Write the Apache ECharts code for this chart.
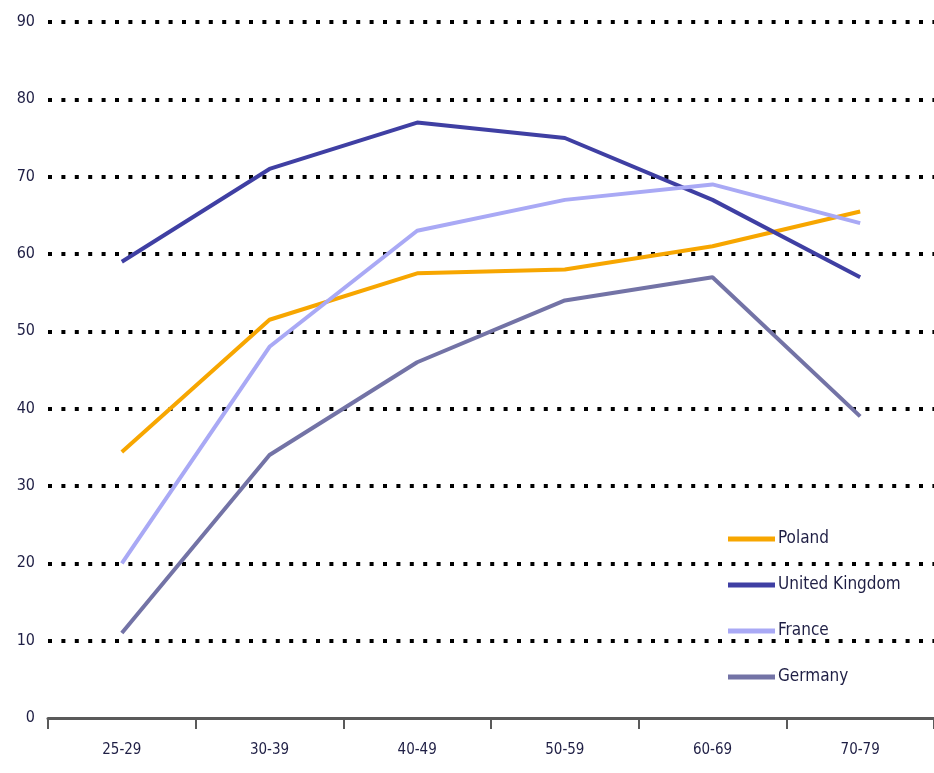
<!DOCTYPE html>
<html>
<head>
<meta charset="utf-8">
<script src="https://cdn.jsdelivr.net/npm/echarts@6/dist/echarts.min.js"></script>
<style>
  html, body { margin: 0; padding: 0; background: #fff; }
  #chart { width: 934px; height: 773px; }
</style>
</head>
<body>
<div id="chart"></div>
<script>
// Age groups along the horizontal axis
const ageGroups = ['25-29', '30-39', '40-49', '50-59', '60-69', '70-79'];

// Percentage values per country
const poland = [34.4, 51.5, 57.5, 58, 61, 65.5];
const unitedKingdom = [59, 71, 77, 75, 67, 57];
const france = [20, 48, 63, 67, 69, 64];
const germany = [11, 34, 46, 54, 57, 39];

const FONT = "'Liberation Sans Narrow', 'DejaVu Sans Condensed', 'Liberation Sans', sans-serif";
const TEXT = '#1f1f45';

function lineSeries(name, data, color) {
  return {
    name: name,
    type: 'line',
    data: data,
    symbol: 'none',
    lineStyle: { color: color, width: 4 },
    itemStyle: { color: color },
    emphasis: { disabled: true }
  };
}

const chart = echarts.init(document.getElementById('chart'), null, { renderer: 'canvas' });
chart.setOption({
  animation: false,
  backgroundColor: '#ffffff',
  grid: { left: 48, right: 0, top: 22, bottom: 55, containLabel: false },
  legend: {
    orient: 'vertical',
    left: 723,
    top: 524,
    itemWidth: 47,
    itemHeight: 5,
    itemGap: 26,
    icon: 'rect',
    textStyle: { fontFamily: FONT, fontSize: 17, color: TEXT, lineHeight: 20, padding: [0, 0, 0, -2] },
    data: ['Poland', 'United Kingdom', 'France', 'Germany']
  },
  xAxis: {
    type: 'category',
    data: ageGroups,
    boundaryGap: true,
    axisLine: { lineStyle: { color: '#5a5a5a', width: 3 } },
    axisTick: { show: true, length: 11, lineStyle: { color: '#5a5a5a', width: 2 } },
    axisLabel: { fontFamily: FONT, fontSize: 15, color: TEXT, margin: 25 },
    splitLine: { show: false }
  },
  yAxis: {
    type: 'value',
    min: 0,
    max: 90,
    interval: 10,
    axisLine: { show: false },
    axisTick: { show: false },
    axisLabel: { fontFamily: FONT, fontSize: 16, color: TEXT, margin: 13 },
    splitLine: {
      show: true,
      showMinLine: false,
      lineStyle: { color: '#000000', width: 4, type: [4, 9.4] }
    }
  },
  series: [
    lineSeries('Poland', poland, '#f7a600'),
    lineSeries('United Kingdom', unitedKingdom, '#3f3fa3'),
    lineSeries('France', france, '#a9a9f5'),
    lineSeries('Germany', germany, '#7373a6')
  ]
});
</script>
</body>
</html>
